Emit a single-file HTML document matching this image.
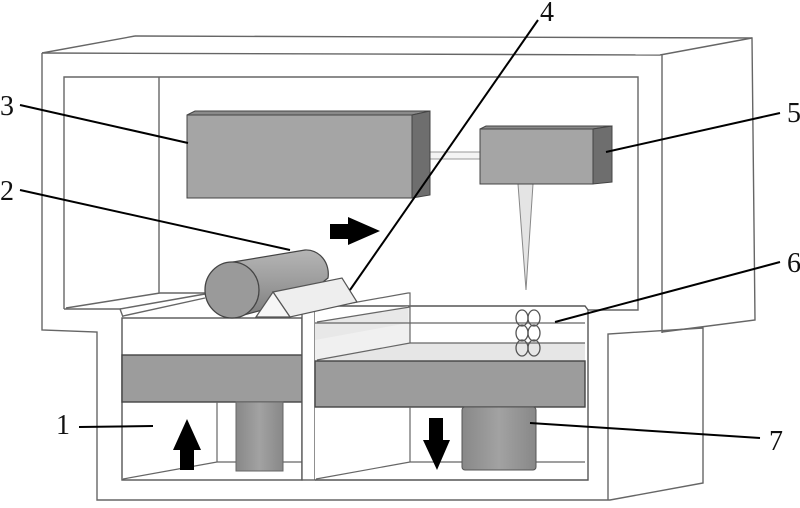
<!DOCTYPE html>
<html><head><meta charset="utf-8"><style>
html,body{margin:0;padding:0;background:#fff;width:800px;height:508px;overflow:hidden}
svg{display:block}
text{font-family:"Liberation Serif",serif;font-size:28px;fill:#111}
</style></head><body>
<svg width="800" height="508" viewBox="0 0 800 508" xmlns="http://www.w3.org/2000/svg">
<defs>
<linearGradient id="cyl" x1="0" y1="0" x2="0" y2="1">
<stop offset="0" stop-color="#b5b5b5"/><stop offset="0.5" stop-color="#9c9c9c"/><stop offset="1" stop-color="#7d7d7d"/></linearGradient>
<linearGradient id="pis" x1="0" y1="0" x2="1" y2="0">
<stop offset="0" stop-color="#888"/><stop offset="0.5" stop-color="#a2a2a2"/><stop offset="1" stop-color="#888"/></linearGradient>
</defs>
<g fill="none" stroke="#666" stroke-width="1.4">
<!-- outer housing -->
<polyline points="135,36 752,38 755,320 662,332"/>
<polyline points="42,53 660,55"/>
<line x1="42" y1="53" x2="135" y2="36"/>
<line x1="660" y1="55" x2="752" y2="38"/>
<line x1="662" y1="55" x2="662" y2="333"/>
<polyline points="42,53 42,330 97,332 97,500 610,500 703,483 703,328 608,334 608,500"/>
<!-- inner frame -->
<polyline points="64,309 64,77 638,77 638,310 588,310"/>
<line x1="159" y1="77" x2="159" y2="293"/>
<!-- left deck -->
<polyline points="64,309 120,309 123,317"/>
<line x1="66" y1="308" x2="160" y2="293"/>
<line x1="160" y1="293" x2="205" y2="293"/>
<line x1="123" y1="316" x2="205" y2="298"/>
<line x1="120" y1="309" x2="205" y2="294"/>
</g>
<!-- left chamber -->
<rect x="122" y="318" width="180" height="162" fill="#fff" stroke="#555" stroke-width="1.4"/>
<rect x="122" y="355" width="180" height="47" fill="#9c9c9c" stroke="#444" stroke-width="1.4"/>
<g fill="none" stroke="#666" stroke-width="1.2">
<polyline points="123,479 217,462 302,462"/>
<line x1="217" y1="402" x2="217" y2="462"/>
</g>
<rect x="236" y="402" width="47" height="69" fill="url(#pis)" stroke="#666" stroke-width="1"/>
<polygon points="187,419 201,450 194,450 194,470 180,470 180,450 173,450" fill="#000"/>
<!-- divider -->
<rect x="302" y="310" width="13" height="170" fill="#fff" stroke="#555" stroke-width="1.3"/>
<!-- right chamber -->
<polyline points="315,306 585,306 588,310 588,480 315,480" fill="#fff" stroke="#555" stroke-width="1.4"/>
<polygon points="315,343 585,343 585,361 315,361" fill="#e6e6e6"/>
<polygon points="315,323 410,307 410,343 315,360" fill="#f0f0f0"/>
<polygon points="315,322 408,306 408,323 315,340" fill="#e2e2e2" opacity="0.6"/>
<g fill="none" stroke="#666" stroke-width="1.2">
<line x1="315" y1="323" x2="585" y2="323"/>
<line x1="410" y1="343" x2="585" y2="343"/>
<line x1="317" y1="360" x2="410" y2="343"/>
<line x1="317" y1="322" x2="410" y2="307"/>
<polyline points="313,310 408,293 410,293 410,343"/>
</g>
<rect x="315" y="361" width="270" height="46" fill="#9c9c9c" stroke="#444" stroke-width="1.4"/>
<g fill="none" stroke="#666" stroke-width="1.2">
<polyline points="316,479 410,462 585,462"/>
<line x1="410" y1="407" x2="410" y2="462"/>
</g>
<rect x="462" y="407" width="74" height="63" rx="3" fill="url(#pis)" stroke="#555" stroke-width="1"/>
<polygon points="429,418 443,418 443,440 450,440 437,470 423,440 429,440" fill="#000"/>
<!-- lattice -->
<g fill="none" stroke="#555" stroke-width="1.3">
<ellipse cx="522" cy="318" rx="6" ry="8"/><ellipse cx="534" cy="318" rx="6" ry="8"/>
<ellipse cx="522" cy="333" rx="6" ry="8"/><ellipse cx="534" cy="333" rx="6" ry="8"/>
<ellipse cx="522" cy="348" rx="6" ry="8"/><ellipse cx="534" cy="348" rx="6" ry="8"/>
</g>
<!-- nozzle beam -->
<polygon points="518,184 533,184 526,290" fill="#e4e4e4" stroke="#888" stroke-width="1"/>
<!-- rod -->
<rect x="420" y="152" width="62" height="7" fill="#f4f4f4" stroke="#999" stroke-width="1"/>
<!-- box 3 -->
<polygon points="187,115 195,111 430,111 412,115" fill="#8a8a8a" stroke="#444" stroke-width="1"/>
<rect x="187" y="115" width="225" height="83" fill="#a5a5a5" stroke="#444" stroke-width="1"/>
<polygon points="412,115 430,111 430,195 412,198" fill="#6e6e6e" stroke="#444" stroke-width="1"/>
<!-- box 5 -->
<polygon points="480,129 486,126 612,126 593,129" fill="#8a8a8a" stroke="#444" stroke-width="1"/>
<rect x="480" y="129" width="113" height="55" fill="#a5a5a5" stroke="#444" stroke-width="1"/>
<polygon points="593,129 612,126 612,182 593,184" fill="#6e6e6e" stroke="#444" stroke-width="1"/>
<!-- roller -->
<path d="M233,262 L305,250 A22,24 0 0 1 328,278 L300,300 L240,316 Z" fill="url(#cyl)" stroke="#444" stroke-width="1.2"/>
<ellipse cx="232" cy="290" rx="27" ry="28" fill="#9a9a9a" stroke="#444" stroke-width="1.3"/>
<!-- wedge -->
<polygon points="273,292 342,278 357,302 290,317" fill="#eeeeee" stroke="#555" stroke-width="1.2"/>
<polygon points="256,317 273,292 290,317" fill="#f6f6f6" stroke="#555" stroke-width="1.2"/>
<!-- arrow right -->
<polygon points="330,224 348,224 348,217 380,231 348,245 348,239 330,239" fill="#000"/>
<!-- leader lines -->
<g stroke="#000" stroke-width="2" fill="none">
<line x1="79" y1="427" x2="153" y2="426"/>
<line x1="20" y1="190" x2="290" y2="250"/>
<line x1="20" y1="105" x2="188" y2="143"/>
<line x1="538" y1="20" x2="350" y2="290"/>
<line x1="780" y1="113" x2="606" y2="152"/>
<line x1="780" y1="262" x2="555" y2="322"/>
<line x1="760" y1="438" x2="530" y2="423"/>
</g>
<text x="56" y="434">1</text>
<text x="0" y="200">2</text>
<text x="0" y="115">3</text>
<text x="540" y="21">4</text>
<text x="787" y="122">5</text>
<text x="787" y="272">6</text>
<text x="769" y="450">7</text>
</svg>
</body></html>
